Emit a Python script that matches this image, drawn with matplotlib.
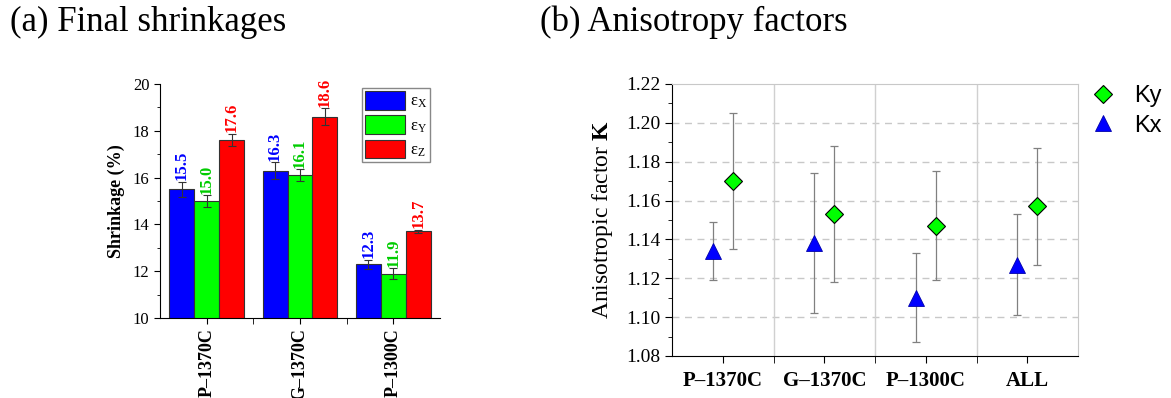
import numpy as np
import matplotlib
matplotlib.use("Agg")
import matplotlib.pyplot as plt
from matplotlib.ticker import MultipleLocator, FixedLocator, FormatStrFormatter

# (a) final shrinkages
samples = ["P\u20131370C", "G\u20131370C", "P\u20131300C"]
eps_x = [15.5, 16.3, 12.3]
eps_y = [15.0, 16.1, 11.9]
eps_z = [17.6, 18.6, 13.7]
err_x = [0.32, 0.35, 0.20]
err_y = [0.26, 0.25, 0.24]
err_z = [0.27, 0.36, 0.08]

# (b) anisotropy factors
groups = ["P\u20131370C", "G\u20131370C", "P\u20131300C", "ALL"]
kx = [1.134, 1.138, 1.110, 1.127]
kx_err = [0.015, 0.036, 0.023, 0.026]
ky = [1.170, 1.153, 1.147, 1.157]
ky_err = [0.035, 0.035, 0.028, 0.030]

serif = ["Liberation Serif", "DejaVu Serif"]
plt.rcParams["font.family"] = serif
plt.rcParams["mathtext.fontset"] = "custom"
plt.rcParams["mathtext.rm"] = "Liberation Serif"
plt.rcParams["mathtext.it"] = "Liberation Serif:italic"
plt.rcParams["mathtext.bf"] = "Liberation Serif:bold"

W, H = 1171, 398
fig = plt.figure(figsize=(W / 100, H / 100), dpi=100)

fig.text(10 / W, 1 - 22 / H, "(a) Final shrinkages", fontsize=25, va="center", ha="left")
fig.text(540 / W, 1 - 22 / H, "(b) Anisotropy factors", fontsize=25, va="center", ha="left")

# ---- left panel
ax1 = fig.add_axes([160 / W, 1 - 318 / H, 280 / W, 234 / H])
x = np.arange(len(samples))
bw = 0.8 / 3
cols = ["#0000FF", "#00FF00", "#FF0000"]
lab_cols = ["#0000FF", "#00CC00", "#FF0000"]
names = [r"$\mathrm{\varepsilon_X}$", r"$\mathrm{\varepsilon_Y}$", r"$\mathrm{\varepsilon_Z}$"]
handles = []
for i, (vals, errs) in enumerate([(eps_x, err_x), (eps_y, err_y), (eps_z, err_z)]):
    pos = x + (i - 1) * bw
    b = ax1.bar(pos, vals, bw, yerr=errs, color=cols[i], edgecolor="#333333", linewidth=0.8,
                error_kw=dict(ecolor="#333333", elinewidth=0.8, capsize=3, capthick=0.8),
                label=names[i], zorder=2)
    handles.append(b)
    for p, v, e in zip(pos, vals, errs):
        ax1.annotate(f"{v:.1f}", (p, v + e), xytext=(0, 1), textcoords="offset points",
                     ha="center", va="bottom", rotation=90, fontsize=12, fontweight="bold",
                     color=lab_cols[i])
ax1.set_xlim(-0.5, 2.5)
ax1.set_ylim(10, 20)
ax1.set_xticks(x)
ax1.set_xticklabels(samples, rotation=90, fontsize=13, fontweight="bold")
ax1.xaxis.set_minor_locator(FixedLocator([0.5, 1.5]))
ax1.yaxis.set_major_locator(MultipleLocator(2))
ax1.yaxis.set_minor_locator(MultipleLocator(1))
ax1.tick_params(axis="y", labelsize=12, direction="out", length=4)
ax1.tick_params(axis="y", which="minor", length=2)
ax1.tick_params(axis="x", which="both", direction="out", length=4)
ax1.spines["top"].set_visible(False)
ax1.spines["right"].set_visible(False)
ax1.set_ylabel("Shrinkage (%)", fontsize=13, fontweight="bold", labelpad=6)
leg1 = ax1.legend(handles=handles, loc="upper right", bbox_to_anchor=(0.995, 1.02),
                  fontsize=12, handlelength=2.4, handleheight=1.35, labelspacing=0.3,
                  borderpad=0.2, handletextpad=0.25, fancybox=False, framealpha=1,
                  edgecolor="#888888")

# ---- right panel
ax2 = fig.add_axes([672 / W, 1 - 356 / H, 406 / W, 272 / H])
xg = np.arange(len(groups))
off = 0.1
ax2.errorbar(xg - off, kx, yerr=kx_err, fmt="none", ecolor="#808080", elinewidth=0.9,
             capsize=3, capthick=0.9, zorder=2)
ax2.errorbar(xg + off, ky, yerr=ky_err, fmt="none", ecolor="#808080", elinewidth=0.9,
             capsize=3, capthick=0.9, zorder=2)
ax2.plot(xg + off, ky, "D", ms=9, mfc="#00FF00", mec="black", mew=0.8, ls="none",
         label="Ky", zorder=3)
ax2.plot(xg - off, kx, "^", ms=11, mfc="#0000FF", mec="#0000AA", mew=0.6, ls="none",
         label="Kx", zorder=3)
ax2.set_xlim(-0.5, 3.5)
ax2.set_ylim(1.08, 1.22)
ax2.set_xticks(xg)
ax2.set_xticklabels(groups, fontsize=15, fontweight="bold")
ax2.xaxis.set_minor_locator(FixedLocator([0.5, 1.5, 2.5]))
ax2.yaxis.set_major_locator(MultipleLocator(0.02))
ax2.yaxis.set_minor_locator(MultipleLocator(0.01))
ax2.yaxis.set_major_formatter(FormatStrFormatter("%.2f"))
ax2.tick_params(axis="y", labelsize=14, direction="out", length=5)
ax2.tick_params(axis="y", which="minor", length=3)
ax2.tick_params(axis="x", which="both", direction="out", length=5, pad=6)
for yv in np.arange(1.10, 1.205, 0.02):
    ax2.axhline(yv, color="#C8C8C8", ls=(0, (5, 4)), lw=1, zorder=0)
for xv in [0.5, 1.5, 2.5]:
    ax2.axvline(xv, color="#D0D0D0", lw=1, zorder=0)
ax2.spines["top"].set_color("#C8C8C8")
ax2.spines["right"].set_color("#C8C8C8")
ax2.set_ylabel(r"Anisotropic factor $\mathbf{K}$", fontsize=17, labelpad=8)
ax2.legend(loc="upper left", bbox_to_anchor=(1082 / W, 1 - 76 / H),
           bbox_transform=fig.transFigure, frameon=False,
           prop={"family": ["Liberation Sans", "DejaVu Sans"], "size": 17},
           handlelength=1.0, handletextpad=0.8, labelspacing=0.3, borderaxespad=0)

plt.savefig("out.png", dpi=100)
